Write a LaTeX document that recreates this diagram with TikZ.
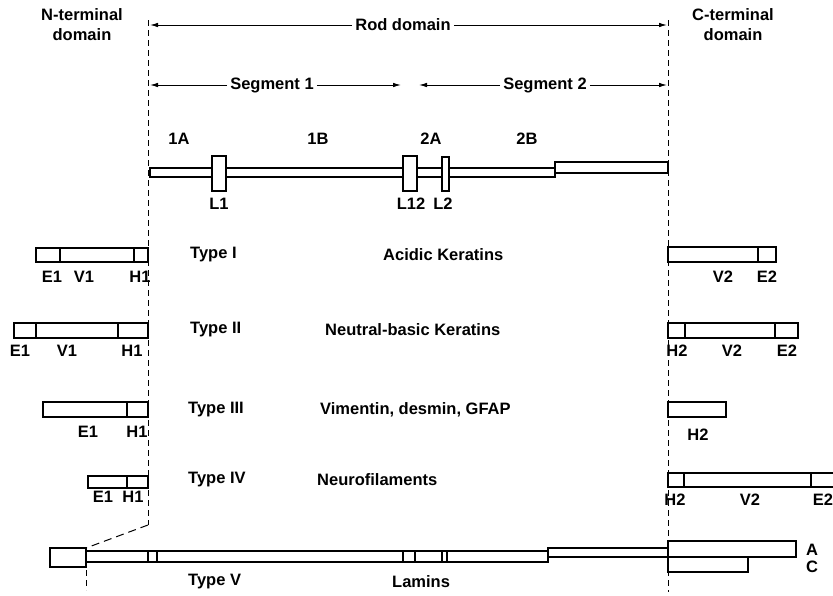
\documentclass[tikz,border=0pt]{standalone}
\usepackage{fontspec}
\setmainfont{Liberation Sans}
\usetikzlibrary{arrows.meta}
\begin{document}
\begin{tikzpicture}[x=1pt,y=-1pt,
  lbl/.style={font=\fontsize{16.5}{20}\selectfont\bfseries, inner sep=0pt, align=center},
  tl/.style={lbl, inner xsep=3pt},
  box/.style={draw, line width=1.1pt, fill=white},
  dv/.style={line width=1.1pt},
  dsh/.style={line width=1pt, dash pattern=on 6pt off 4pt},
  dshv/.style={line width=1pt, dash pattern=on 8pt off 5pt},
  arr/.style={line width=0.9pt, -{Latex[length=8pt,width=4.5pt]}}]
\useasboundingbox (0,0) rectangle (833,595);

% dashed boundaries
\coordinate (nt) at (148,20);
\coordinate (nb) at (148,525);
\coordinate (vb) at (86,548);
\coordinate (vs1) at (86,570);
\coordinate (vs2) at (86,590);
\coordinate (ct) at (668,20);
\coordinate (cb) at (668,592);
\draw[dsh] (nt) -- (nb);
\draw[dshv] (nb) -- (vb);
\draw[dsh] (vs1) -- (vs2);
\draw[dsh] (ct) -- (cb);

% top labels
\node[lbl] (nterm) at (82,25) {N-terminal\\domain};
\node[lbl] (cterm) at (733,25) {C-terminal\\domain};
\node[tl] (rod) at (403,25) {Rod domain};
\coordinate (rl) at (150,25);
\coordinate (rr) at (667,25);
\draw[arr] (rod.west) -- (rl);
\draw[arr] (rod.east) -- (rr);
\node[tl] (seg1) at (272,85) {Segment 1};
\coordinate (s1l) at (150,85);
\coordinate (s1r) at (401,85);
\draw[arr] (seg1.west) -- (s1l);
\draw[arr] (seg1.east) -- (s1r);
\node[tl] (seg2) at (545,85) {Segment 2};
\coordinate (s2l) at (419,85);
\coordinate (s2r) at (667,85);
\draw[arr] (seg2.west) -- (s2l);
\draw[arr] (seg2.east) -- (s2r);

% rod
\draw[box] (150,168) rectangle (555,177);
\draw[box] (555,162) rectangle (668,173);
\draw[box] (212,156) rectangle (226,191);
\draw[box] (403,156) rectangle (417,191);
\draw[box] (442,157) rectangle (449,191);
\node[lbl] (h1a) at (179,139) {1A};
\node[lbl] (h1b) at (318,139) {1B};
\node[lbl] (h2a) at (431,139) {2A};
\node[lbl] (h2b) at (527,139) {2B};
\node[lbl] (l1) at (219,204) {L1};
\node[lbl] (l12) at (411,204) {L12};
\node[lbl] (l2) at (443,204) {L2};

% Type I
\draw[box] (36,248) rectangle (148,262);
\draw[dv] (60,248) -- (60,262) (134,248) -- (134,262);
\node[lbl] (t1e1) at (52,277) {E1};
\node[lbl] (t1v1) at (84,277) {V1};
\node[lbl] (t1h1) at (140,277) {H1};
\draw[box] (668,247) rectangle (776,262);
\draw[dv] (758,247) -- (758,262);
\node[lbl] (t1v2) at (723,277) {V2};
\node[lbl] (t1e2) at (767,277) {E2};
\node[lbl, anchor=west] (t1) at (190,255) {Type I};
\node[lbl, anchor=west] (t1n) at (383,255) {Acidic Keratins};

% Type II
\draw[box] (14,323) rectangle (148,338);
\draw[dv] (36,323) -- (36,338) (118,323) -- (118,338);
\node[lbl] (t2e1) at (20,351) {E1};
\node[lbl] (t2v1) at (67,351) {V1};
\node[lbl] (t2h1) at (132,351) {H1};
\draw[box] (668,323) rectangle (798,338);
\draw[dv] (685,323) -- (685,338) (775,323) -- (775,338);
\node[lbl] (t2h2) at (677,351) {H2};
\node[lbl] (t2v2) at (732,351) {V2};
\node[lbl] (t2e2) at (787,351) {E2};
\node[lbl, anchor=west] (t2) at (190,330) {Type II};
\node[lbl, anchor=west] (t2n) at (325,330) {Neutral-basic Keratins};

% Type III
\draw[box] (43,402) rectangle (148,417);
\draw[dv] (127,402) -- (127,417);
\node[lbl] (t3e1) at (88,432) {E1};
\node[lbl] (t3h1) at (137,432) {H1};
\draw[box] (668,402) rectangle (726,417);
\node[lbl] (t3h2) at (698,435) {H2};
\node[lbl, anchor=west] (t3) at (188,410) {Type III};
\node[lbl, anchor=west] (t3n) at (320,410) {Vimentin, desmin, GFAP};

% Type IV
\draw[box] (88,476) rectangle (148,488);
\draw[dv] (127,476) -- (127,488);
\node[lbl] (t4e1) at (103,497) {E1};
\node[lbl] (t4h1) at (133,497) {H1};
\draw[box] (668,473) rectangle (845,487);
\draw[dv] (684,473) -- (684,487) (811,473) -- (811,487);
\node[lbl] (t4h2) at (675,500) {H2};
\node[lbl] (t4v2) at (750,500) {V2};
\node[lbl] (t4e2) at (823,500) {E2};
\node[lbl, anchor=west] (t4) at (188,480) {Type IV};
\node[lbl, anchor=west] (t4n) at (317,480) {Neurofilaments};

% Type V
\draw[box] (50,548) rectangle (86,567);
\draw[box] (86,551) rectangle (548,562);
\draw[box] (548,548) rectangle (668,557);
\foreach \xx in {148,157,403,415,442,447} \draw[dv] (\xx,551) -- (\xx,562);
\draw[box] (668,557) rectangle (748,572);
\draw[box] (668,541) rectangle (796,557);
\node[lbl] (la) at (812,550) {A};
\node[lbl] (lc) at (812,567) {C};
\node[lbl, anchor=west] (t5) at (188,582) {Type V};
\node[lbl, anchor=west] (t5n) at (392,582) {Lamins};
\end{tikzpicture}
\end{document}
